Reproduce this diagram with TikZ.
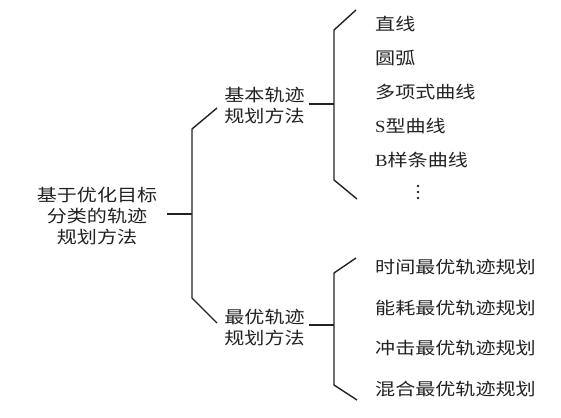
\documentclass[tikz,border=0pt]{standalone}
\usepackage{fontspec}
\newfontfamily\cjk[FakeStretch=1.18]{Noto Sans CJK SC}
\newfontfamily\latn[FakeStretch=1.1]{Liberation Serif}
\definecolor{ink}{HTML}{222222}
\tikzset{
  lbl/.style={font=\cjk\fontsize{17}{21}\selectfont, text=ink, inner sep=0pt, align=center},
  item/.style={lbl, anchor=west},
  conn/.style={draw=ink, line width=1.4pt},
  dotmark/.style={fill=ink, circle, inner sep=0pt, minimum size=2.8pt}
}
\begin{document}
\begin{tikzpicture}[x=1pt,y=-1pt]
\useasboundingbox (0,0) rectangle (561,417);
% nodes
\node[lbl, inner xsep=10pt] (root) at (97,216) {基于优化目标\\分类的轨迹\\规划方法};
\node[lbl, inner xsep=4pt] (n1) at (264.5,106) {基本轨迹\\规划方法};
\node[lbl, inner xsep=4pt] (n2) at (264.5,327.5) {最优轨迹\\规划方法};
\node[item] (a1) at (375,24) {直线};
\node[item] (a2) at (375,58) {圆弧};
\node[item] (a3) at (375,92) {多项式曲线};
\node[item] (a4) at (375,126) {{\latn S}型曲线};
\node[item] (a5) at (375,160) {{\latn B}样条曲线};
\node[dotmark] (d1) at (418,186) {};
\node[dotmark] (d2) at (418,192) {};
\node[dotmark] (d3) at (418,198) {};
\node[item] (b1) at (375,267) {时间最优轨迹规划};
\node[item] (b2) at (375,308) {能耗最优轨迹规划};
\node[item] (b3) at (375,348) {冲击最优轨迹规划};
\node[item] (b4) at (375,389) {混合最优轨迹规划};
% bracket coordinates
\coordinate (r0) at (192,214);
\coordinate (r1) at (192,129);
\coordinate (r2) at (192,298);
\coordinate (rt) at (217,108);
\coordinate (rb) at (217,323);
\coordinate (p0) at (334,104);
\coordinate (p1) at (334,30);
\coordinate (p2) at (334,180);
\coordinate (pt) at (356,10);
\coordinate (pb) at (357,199);
\coordinate (q0) at (334,325);
\coordinate (q1) at (334,273);
\coordinate (q2) at (334,385);
\coordinate (qt) at (356,258);
\coordinate (qb) at (357,400);
% connectors
\draw[conn] (root.east |- r0) -- (r0);
\draw[conn] (rt) -- (r1) -- (r2) -- (rb);
\draw[conn] (n1.east |- p0) -- (p0);
\draw[conn] (pt) -- (p1) -- (p2) -- (pb);
\draw[conn] (n2.east |- q0) -- (q0);
\draw[conn] (qt) -- (q1) -- (q2) -- (qb);
\end{tikzpicture}
\end{document}
